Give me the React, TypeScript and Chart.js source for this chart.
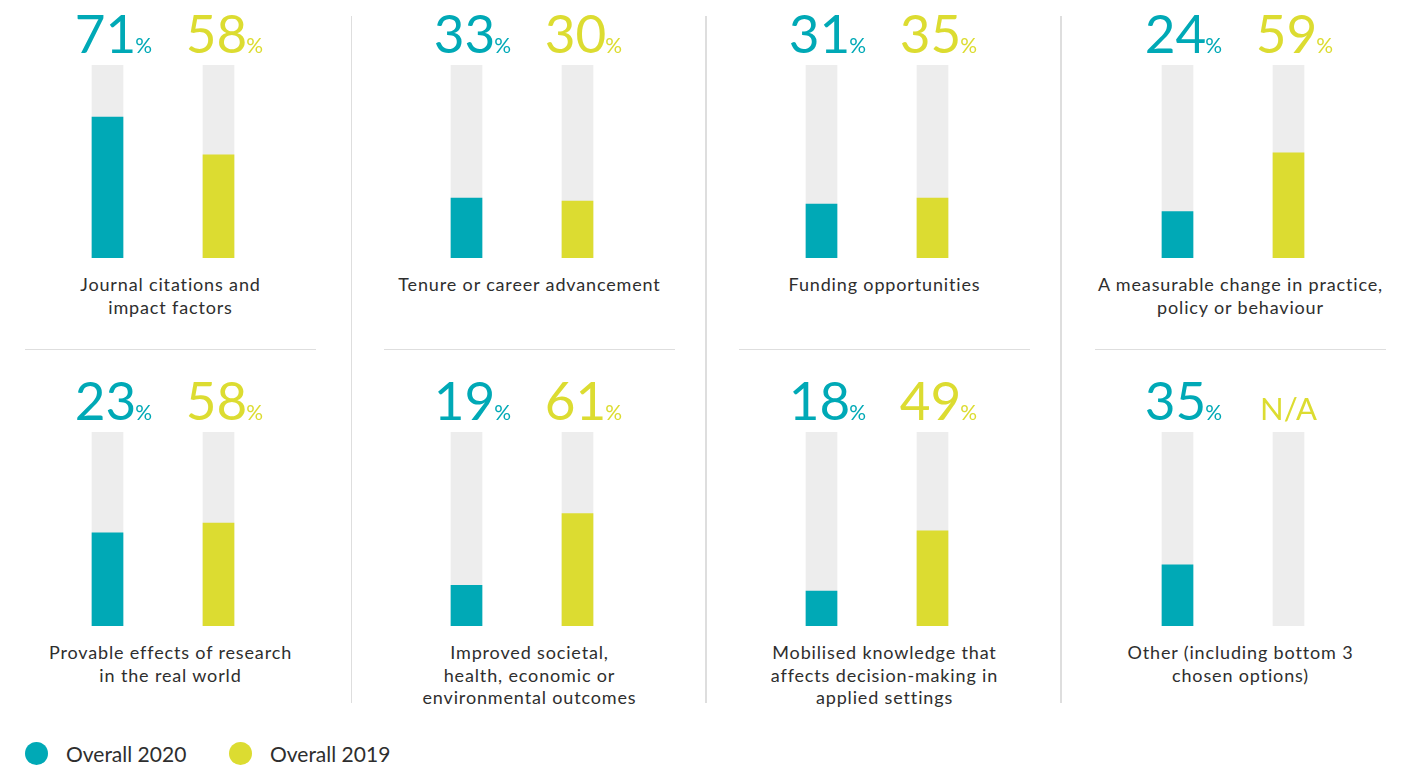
import React, { useEffect, useRef } from "react";
import { Chart, registerables } from "chart.js";

Chart.register(...registerables);

// ---------- data ----------
const categories: string[][] = [
  ["Journal citations and", "impact factors"],
  ["Tenure or career advancement"],
  ["Funding opportunities"],
  ["A measurable change in practice,", "policy or behaviour"],
  ["Provable effects of research", "in the real world"],
  ["Improved societal,", "health, economic or", "environmental outcomes"],
  ["Mobilised knowledge that", "affects decision-making in", "applied settings"],
  ["Other (including bottom 3", "chosen options)"],
];
const seriesNames = ["Overall 2020", "Overall 2019"];
// printed labels
const labels2020 = ["71", "33", "31", "24", "23", "19", "18", "35"];
const labels2019 = ["58", "30", "35", "59", "58", "61", "49", "N/A"];
// bar heights as drawn in the picture (% of the grey track)
const bars2020: (number | null)[] = [73, 31, 28, 24, 48, 21, 18, 31.5];
const bars2019: (number | null)[] = [53.5, 29.5, 31, 54.5, 53, 58, 49, null];
const trackValues = [100, 100];

// ---------- style ----------
const TEAL = "#00a9b6";
const YELLOW = "#dcdc31";
const TRACK = "#ededed";
const TEXT = "#2e2e2e";
const RULE = "#dedede";
const FONT = "Lato, 'Open Sans', sans-serif";

const COL_CENTERS = [170.5, 529.5, 884.5, 1240.5];
const ROW_TRACK_TOP = [65, 432];
const ROW_TRACK_H = [193, 194];
const ROW_LABEL_TOP = [273, 641];
const PAD = 60;
const CANVAS_W = 222;

function Panel({ idx }: { idx: number }) {
  const ref = useRef<HTMLCanvasElement | null>(null);
  const col = idx % 4;
  const row = Math.floor(idx / 4);
  const cx = COL_CENTERS[col];
  const trackTop = ROW_TRACK_TOP[row];
  const trackH = ROW_TRACK_H[row];
  const h = PAD + trackH;

  useEffect(() => {
    if (!ref.current) return;
    const labelPlugin = {
      id: "pctLabels",
      afterDatasetsDraw(chart: any) {
        const ctx = chart.ctx;
        const xs = chart.scales.x;
        const baseY = chart.chartArea.top - 12;
        const texts = [labels2020[idx], labels2019[idx]];
        texts.forEach((txt, i) => {
          const x = xs.getPixelForValue(i);
          ctx.save();
          ctx.fillStyle = i === 0 ? TEAL : YELLOW;
          ctx.textBaseline = "alphabetic";
          if (txt === "N/A") {
            ctx.font = `400 31px ${FONT}`;
            ctx.textAlign = "center";
            ctx.fillText(txt, x, baseY);
          } else {
            const big = `400 53px ${FONT}`;
            const small = `400 21px ${FONT}`;
            ctx.font = big;
            const w1 = ctx.measureText(txt).width;
            ctx.font = small;
            const w2 = ctx.measureText("%").width;
            const gap = -1;
            const total = w1 + gap + w2;
            const start = x + 6 - total / 2;
            ctx.textAlign = "left";
            ctx.font = big;
            ctx.fillText(txt, start, baseY);
            ctx.font = small;
            ctx.fillText("%", start + w1 + gap, baseY);
          }
          ctx.restore();
        });
      },
    };

    const chart = new Chart(ref.current, {
      type: "bar",
      data: {
        labels: seriesNames,
        datasets: [
          {
            data: [bars2020[idx], bars2019[idx]],
            backgroundColor: [TEAL, YELLOW],
            grouped: false,
            order: 0,
            barThickness: 31,
            borderWidth: 0,
          } as any,
          {
            data: trackValues,
            backgroundColor: TRACK,
            grouped: false,
            order: 1,
            barThickness: 31,
            borderWidth: 0,
          } as any,
        ],
      },
      options: {
        animation: false,
        responsive: false,
        maintainAspectRatio: false,
        events: [],
        layout: { padding: { top: PAD, left: 0, right: 0, bottom: 0 } },
        plugins: {
          legend: { display: false },
          tooltip: { enabled: false },
        },
        scales: {
          x: { display: false, offset: true },
          y: { display: false, min: 0, max: 100 },
        },
      },
      plugins: [labelPlugin],
    });
    return () => chart.destroy();
  }, [idx]);

  return (
    <>
      <canvas
        ref={ref}
        width={CANVAS_W}
        height={h}
        style={{
          position: "absolute",
          left: cx - 118.5,
          top: trackTop - PAD,
          width: CANVAS_W,
          height: h,
        }}
      />
      <div
        style={{
          position: "absolute",
          left: cx - 170,
          top: ROW_LABEL_TOP[row],
          width: 340,
          textAlign: "center",
          fontFamily: FONT,
          fontSize: 18,
          letterSpacing: "0.85px",
          lineHeight: "22.5px",
          color: TEXT,
        }}
      >
        {categories[idx].map((l, i) => (
          <div key={i}>{l}</div>
        ))}
      </div>
    </>
  );
}

export default function App() {
  const vLines = [351.5, 706, 1061];
  const hLines: [number, number][] = [
    [25, 316],
    [384, 675],
    [739, 1030],
    [1095, 1386],
  ];
  return (
    <div
      style={{
        position: "absolute",
        left: 0,
        top: 0,
        width: 1414,
        height: 765,
        background: "#ffffff",
        fontFamily: FONT,
        overflow: "hidden",
      }}
    >
      {vLines.map((x, i) => (
        <div
          key={"v" + i}
          style={{
            position: "absolute",
            left: x - 0.75,
            top: 16,
            width: 1.5,
            height: 687,
            background: RULE,
          }}
        />
      ))}
      {hLines.map(([a, b], i) => (
        <div
          key={"h" + i}
          style={{
            position: "absolute",
            left: a,
            top: 348.5,
            width: b - a,
            height: 1.2,
            background: RULE,
          }}
        />
      ))}
      {categories.map((_, i) => (
        <Panel key={i} idx={i} />
      ))}
      {/* legend */}
      {seriesNames.map((name, i) => (
        <div
          key={"lg" + i}
          style={{
            position: "absolute",
            left: i === 0 ? 25 : 229,
            top: 742,
            height: 23,
            display: "flex",
            alignItems: "center",
            fontFamily: FONT,
            fontSize: 21,
            color: TEXT,
          }}
        >
          <span
            style={{
              display: "inline-block",
              width: 23,
              height: 23,
              borderRadius: "50%",
              background: i === 0 ? TEAL : YELLOW,
              marginRight: 18,
            }}
          />
          <span>{name}</span>
        </div>
      ))}
    </div>
  );
}
